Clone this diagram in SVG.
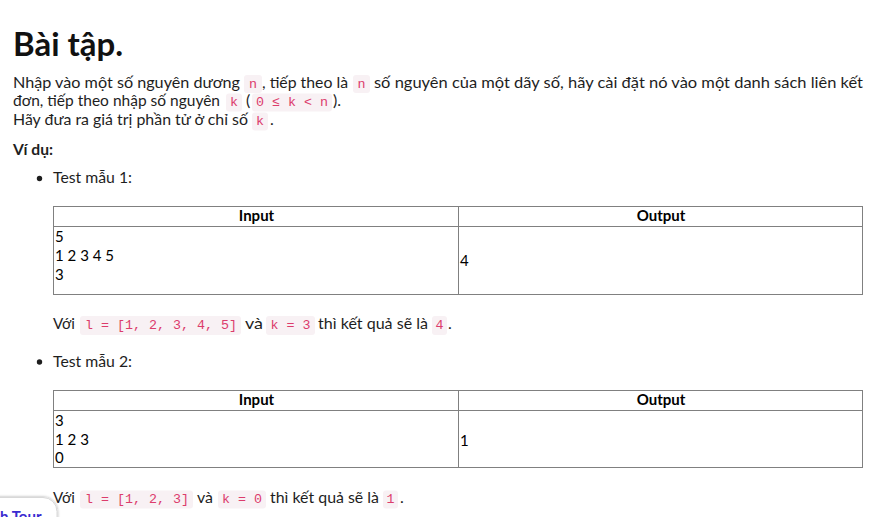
<svg xmlns="http://www.w3.org/2000/svg" width="873" height="517" viewBox="0 0 873 517">
<defs>
<style>
.b{font-family:Lato,"Liberation Sans",sans-serif;font-size:16px;fill:#1e1e1e}
.bb{font-family:Lato,"Liberation Sans",sans-serif;font-size:16px;font-weight:bold;fill:#1e1e1e}
.t{font-family:Lato,"Liberation Sans",sans-serif;font-size:15px;fill:#000}
.th{font-family:Lato,"Liberation Sans",sans-serif;font-size:15px;font-weight:bold;fill:#000}
.cb{fill:#f8f1f4}
.c{font-family:"Liberation Mono","DejaVu Sans Mono",monospace;font-size:13.33px;fill:#dc3c6c}
.grid{fill:#fff;stroke:#808080;stroke-width:1}
.ln{stroke:#808080;stroke-width:1}
</style>
<filter id="sh" x="-30%" y="-30%" width="160%" height="160%">
<feGaussianBlur in="SourceAlpha" stdDeviation="1.5"/>
<feOffset dx="0" dy="0"/>
<feComponentTransfer><feFuncA type="linear" slope="0.35"/></feComponentTransfer>
<feMerge><feMergeNode/><feMergeNode in="SourceGraphic"/></feMerge>
</filter>
</defs>
<rect width="873" height="517" fill="#fff"/>

<g id="title">
<text x="13" y="56" font-family="Lato,'Liberation Sans',sans-serif" font-size="31.5" font-weight="bold" fill="#111" textLength="110" lengthAdjust="spacingAndGlyphs">Bài tập.</text>
</g>

<g id="para">
<text class="b" x="13" y="87.5" textLength="227" lengthAdjust="spacingAndGlyphs">Nhập vào một số nguyên dương</text>
<rect class="cb" x="244" y="75" width="18" height="18" rx="3"/>
<text class="c" x="249" y="87.5">n</text>
<text class="b" x="262" y="87.5" textLength="86" lengthAdjust="spacingAndGlyphs">, tiếp theo là</text>
<rect class="cb" x="353" y="75" width="17" height="18" rx="3"/>
<text class="c" x="357.5" y="87.5">n</text>
<text class="b" x="374" y="87.5" textLength="489" lengthAdjust="spacingAndGlyphs">số nguyên của một dãy số, hãy cài đặt nó vào một danh sách liên kết</text>

<text class="b" x="13" y="106" textLength="207" lengthAdjust="spacingAndGlyphs">đơn, tiếp theo nhập số nguyên</text>
<rect class="cb" x="226" y="93.5" width="16" height="18" rx="3"/>
<text class="c" x="230" y="106">k</text>
<text class="b" x="246" y="106">(</text>
<rect class="cb" x="252" y="93.5" width="80" height="18" rx="3"/>
<text class="c" x="256" y="106">0 ≤ k &lt; n</text>
<text class="b" x="333" y="106">).</text>

<text class="b" x="13" y="125" textLength="235" lengthAdjust="spacingAndGlyphs">Hãy đưa ra giá trị phần tử ở chỉ số</text>
<rect class="cb" x="252" y="112.5" width="16" height="18" rx="3"/>
<text class="c" x="256" y="125">k</text>
<text class="b" x="270" y="125">.</text>

<text class="bb" x="13" y="155" textLength="40" lengthAdjust="spacingAndGlyphs">Ví dụ:</text>
</g>

<g id="test1">
<circle cx="39.5" cy="178.5" r="2.7" fill="#1e1e1e"/>
<text class="b" x="53" y="183" textLength="79" lengthAdjust="spacingAndGlyphs">Test mẫu 1:</text>
<rect class="grid" x="53.5" y="206.5" width="809" height="88"/>
<line class="ln" x1="53.5" y1="226.5" x2="862.5" y2="226.5"/>
<line class="ln" x1="458.5" y1="206.5" x2="458.5" y2="294.5"/>
<text class="th" x="256.5" y="221" text-anchor="middle">Input</text>
<text class="th" x="661" y="221" text-anchor="middle">Output</text>
<text class="t" x="55" y="241.5">5</text>
<text class="t" x="55" y="261" textLength="59" lengthAdjust="spacingAndGlyphs">1 2 3 4 5</text>
<text class="t" x="55" y="280">3</text>
<text class="t" x="460" y="266">4</text>
</g>

<g id="explain1">
<text class="b" x="53" y="329" textLength="22" lengthAdjust="spacingAndGlyphs">Với</text>
<rect class="cb" x="80" y="316" width="161" height="19" rx="3"/>
<text class="c" x="85" y="329">l = [1, 2, 3, 4, 5]</text>
<text class="b" x="245" y="329" textLength="18" lengthAdjust="spacingAndGlyphs">và</text>
<rect class="cb" x="266" y="316" width="49" height="19" rx="3"/>
<text class="c" x="270.5" y="329">k = 3</text>
<text class="b" x="318" y="329" textLength="110" lengthAdjust="spacingAndGlyphs">thì kết quả sẽ là</text>
<rect class="cb" x="432" y="316" width="15" height="19" rx="3"/>
<text class="c" x="435.5" y="329">4</text>
<text class="b" x="448" y="329">.</text>
</g>

<g id="test2">
<circle cx="39.5" cy="362" r="2.7" fill="#1e1e1e"/>
<text class="b" x="53" y="367" textLength="79" lengthAdjust="spacingAndGlyphs">Test mẫu 2:</text>
<rect class="grid" x="53.5" y="390.5" width="809" height="77"/>
<line class="ln" x1="53.5" y1="410.5" x2="862.5" y2="410.5"/>
<line class="ln" x1="458.5" y1="390.5" x2="458.5" y2="467.5"/>
<text class="th" x="256.5" y="405" text-anchor="middle">Input</text>
<text class="th" x="661" y="405" text-anchor="middle">Output</text>
<text class="t" x="55" y="425.5">3</text>
<text class="t" x="55" y="445" textLength="34" lengthAdjust="spacingAndGlyphs">1 2 3</text>
<text class="t" x="55" y="463">0</text>
<text class="t" x="460" y="446">1</text>
</g>

<g id="explain2">
<text class="b" x="53" y="503" textLength="22" lengthAdjust="spacingAndGlyphs">Với</text>
<rect class="cb" x="80" y="490.5" width="113" height="18" rx="3"/>
<text class="c" x="85" y="503">l = [1, 2, 3]</text>
<text class="b" x="197" y="503" textLength="16" lengthAdjust="spacingAndGlyphs">và</text>
<rect class="cb" x="218" y="490.5" width="48" height="18" rx="3"/>
<text class="c" x="222" y="503">k = 0</text>
<text class="b" x="270" y="503" textLength="109" lengthAdjust="spacingAndGlyphs">thì kết quả sẽ là</text>
<rect class="cb" x="383" y="490.5" width="15" height="18" rx="3"/>
<text class="c" x="386.5" y="503">1</text>
<text class="b" x="400" y="503">.</text>
</g>

<g id="tour">
<rect x="-20" y="497.5" width="77" height="40" rx="14" fill="#fff" stroke="#d8d8d8" stroke-width="1" filter="url(#sh)"/>
<text x="0" y="521.5" font-family="Lato,'Liberation Sans',sans-serif" font-size="15" font-weight="bold" fill="#3a2bd0">h Tour</text>
</g>
</svg>
